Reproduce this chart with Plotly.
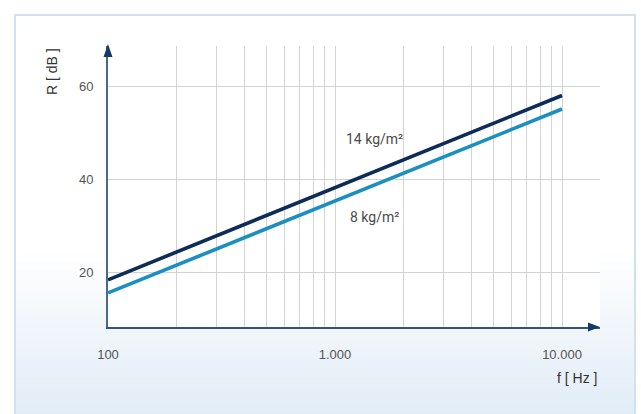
import plotly.graph_objects as go

# ---- data ----
freq = [100, 10000]
r_14 = [18.5, 58.0]
r_8 = [15.7, 55.1]
series_names = ["14 kg/m²", "8 kg/m²"]
x_tickvals = [100, 1000, 10000]
x_ticktext = ["100", "1.000", "10.000"]
y_tickvals = [20, 40, 60]
x_minor = [200, 300, 400, 500, 600, 700, 800, 900,
           2000, 3000, 4000, 5000, 6000, 7000, 8000, 9000]

W, H = 641, 414
L, R, T, B = 108, 41, 46, 87
pw, ph = W - L - R, H - T - B

def px(x):
    return (x - L) / pw

def py(y):
    return (H - B - y) / ph

fig = go.Figure()
fig.add_trace(go.Scatter(x=freq, y=r_14, mode="lines", name=series_names[0],
                         line=dict(color="#0d2c58", width=3.6), hoverinfo="skip"))
fig.add_trace(go.Scatter(x=freq, y=r_8, mode="lines", name=series_names[1],
                         line=dict(color="#1b8fc2", width=3.6), hoverinfo="skip"))

shapes = []
shapes.append(dict(type="rect", xref="paper", yref="paper", x0=px(15), x1=px(635),
                   y0=py(15), y1=py(416), fillcolor="white", line=dict(width=0), layer="below"))
g0, g1 = 250, 414
n = 40
c0 = (255, 255, 255)
c1 = (225, 236, 246)
for i in range(n):
    ya = g0 + (g1 - g0) * i / n
    yb = g0 + (g1 - g0) * (i + 1) / n + 0.5
    t = (i + 0.5) / n
    c = tuple(round(c0[k] + (c1[k] - c0[k]) * t) for k in range(3))
    shapes.append(dict(type="rect", xref="paper", yref="paper", x0=px(15), x1=px(635),
                       y0=py(ya), y1=py(min(yb, 416)), fillcolor="rgb(%d,%d,%d)" % c,
                       line=dict(width=0), layer="below"))
shapes.append(dict(type="rect", xref="paper", yref="paper", x0=0, x1=1, y0=0, y1=1,
                   fillcolor="white", line=dict(width=0), layer="below"))
shapes.append(dict(type="rect", xref="paper", yref="paper", x0=px(15), x1=px(635),
                   y0=py(15), y1=py(420), fillcolor="rgba(0,0,0,0)",
                   line=dict(color="#d2e1ee", width=2), layer="below"))
ax_col = "#163a66"
shapes.append(dict(type="path", xref="paper", yref="paper",
                   path="M %f %f L %f %f L %f %f Z" % (px(600), py(327), px(588), py(322.5), px(588), py(331.5)),
                   fillcolor=ax_col, line=dict(width=0)))
shapes.append(dict(type="path", xref="paper", yref="paper",
                   path="M %f %f L %f %f L %f %f Z" % (px(108), py(44), px(103.5), py(57), px(112.5), py(57)),
                   fillcolor=ax_col, line=dict(width=0)))

annotations = [
    dict(x=3.172, y=48.6, xref="x", yref="y", text=series_names[0], showarrow=False,
         xanchor="center", yanchor="middle",
         font=dict(family="Roboto", size=14, color="#4a4a4a")),
    dict(x=3.172, y=32.0, xref="x", yref="y", text=series_names[1], showarrow=False,
         xanchor="center", yanchor="middle",
         font=dict(family="Roboto", size=14, color="#4a4a4a")),
    dict(x=px(52), y=py(72), xref="paper", yref="paper", text="R [ dB ]", textangle=-90,
         xanchor="center", yanchor="middle",
         showarrow=False, font=dict(family="Liberation Sans", size=14, color="#333")),
    dict(x=px(577), y=py(378), xref="paper", yref="paper", text="f [ Hz ]",
         xanchor="center", yanchor="middle",
         showarrow=False, font=dict(family="Liberation Sans", size=14, color="#333")),
]

fig.update_layout(
    width=W, height=H,
    margin=dict(l=L, r=R, t=T, b=B),
    paper_bgcolor="white", plot_bgcolor="white",
    showlegend=False,
    shapes=shapes, annotations=annotations,
    xaxis=dict(type="log", range=[2, 2 + pw / 227.0], tickvals=x_tickvals, ticktext=x_ticktext,
               showgrid=True, gridcolor="#d3d3d3", gridwidth=1,
               minor=dict(tickvals=x_minor, showgrid=True, gridcolor="#d3d3d3", gridwidth=1, ticks=""),
               showline=True, linecolor="#2f5580", linewidth=2, zeroline=False,
               ticks="", ticklabelstandoff=14,
               tickfont=dict(family="Liberation Sans", size=13, color="#555"), fixedrange=True),
    yaxis=dict(range=[8.4, 68.6], tickvals=y_tickvals,
               showgrid=True, gridcolor="#d3d3d3", gridwidth=1,
               showline=True, linecolor="#4a6a8d", linewidth=2, zeroline=False,
               ticks="", ticklabelstandoff=10,
               tickfont=dict(family="Liberation Sans", size=13, color="#555"), fixedrange=True),
)

fig.write_html("out.html", config={"displayModeBar": False},
               post_script="document.body.style.margin='0';document.body.style.padding='0';")
